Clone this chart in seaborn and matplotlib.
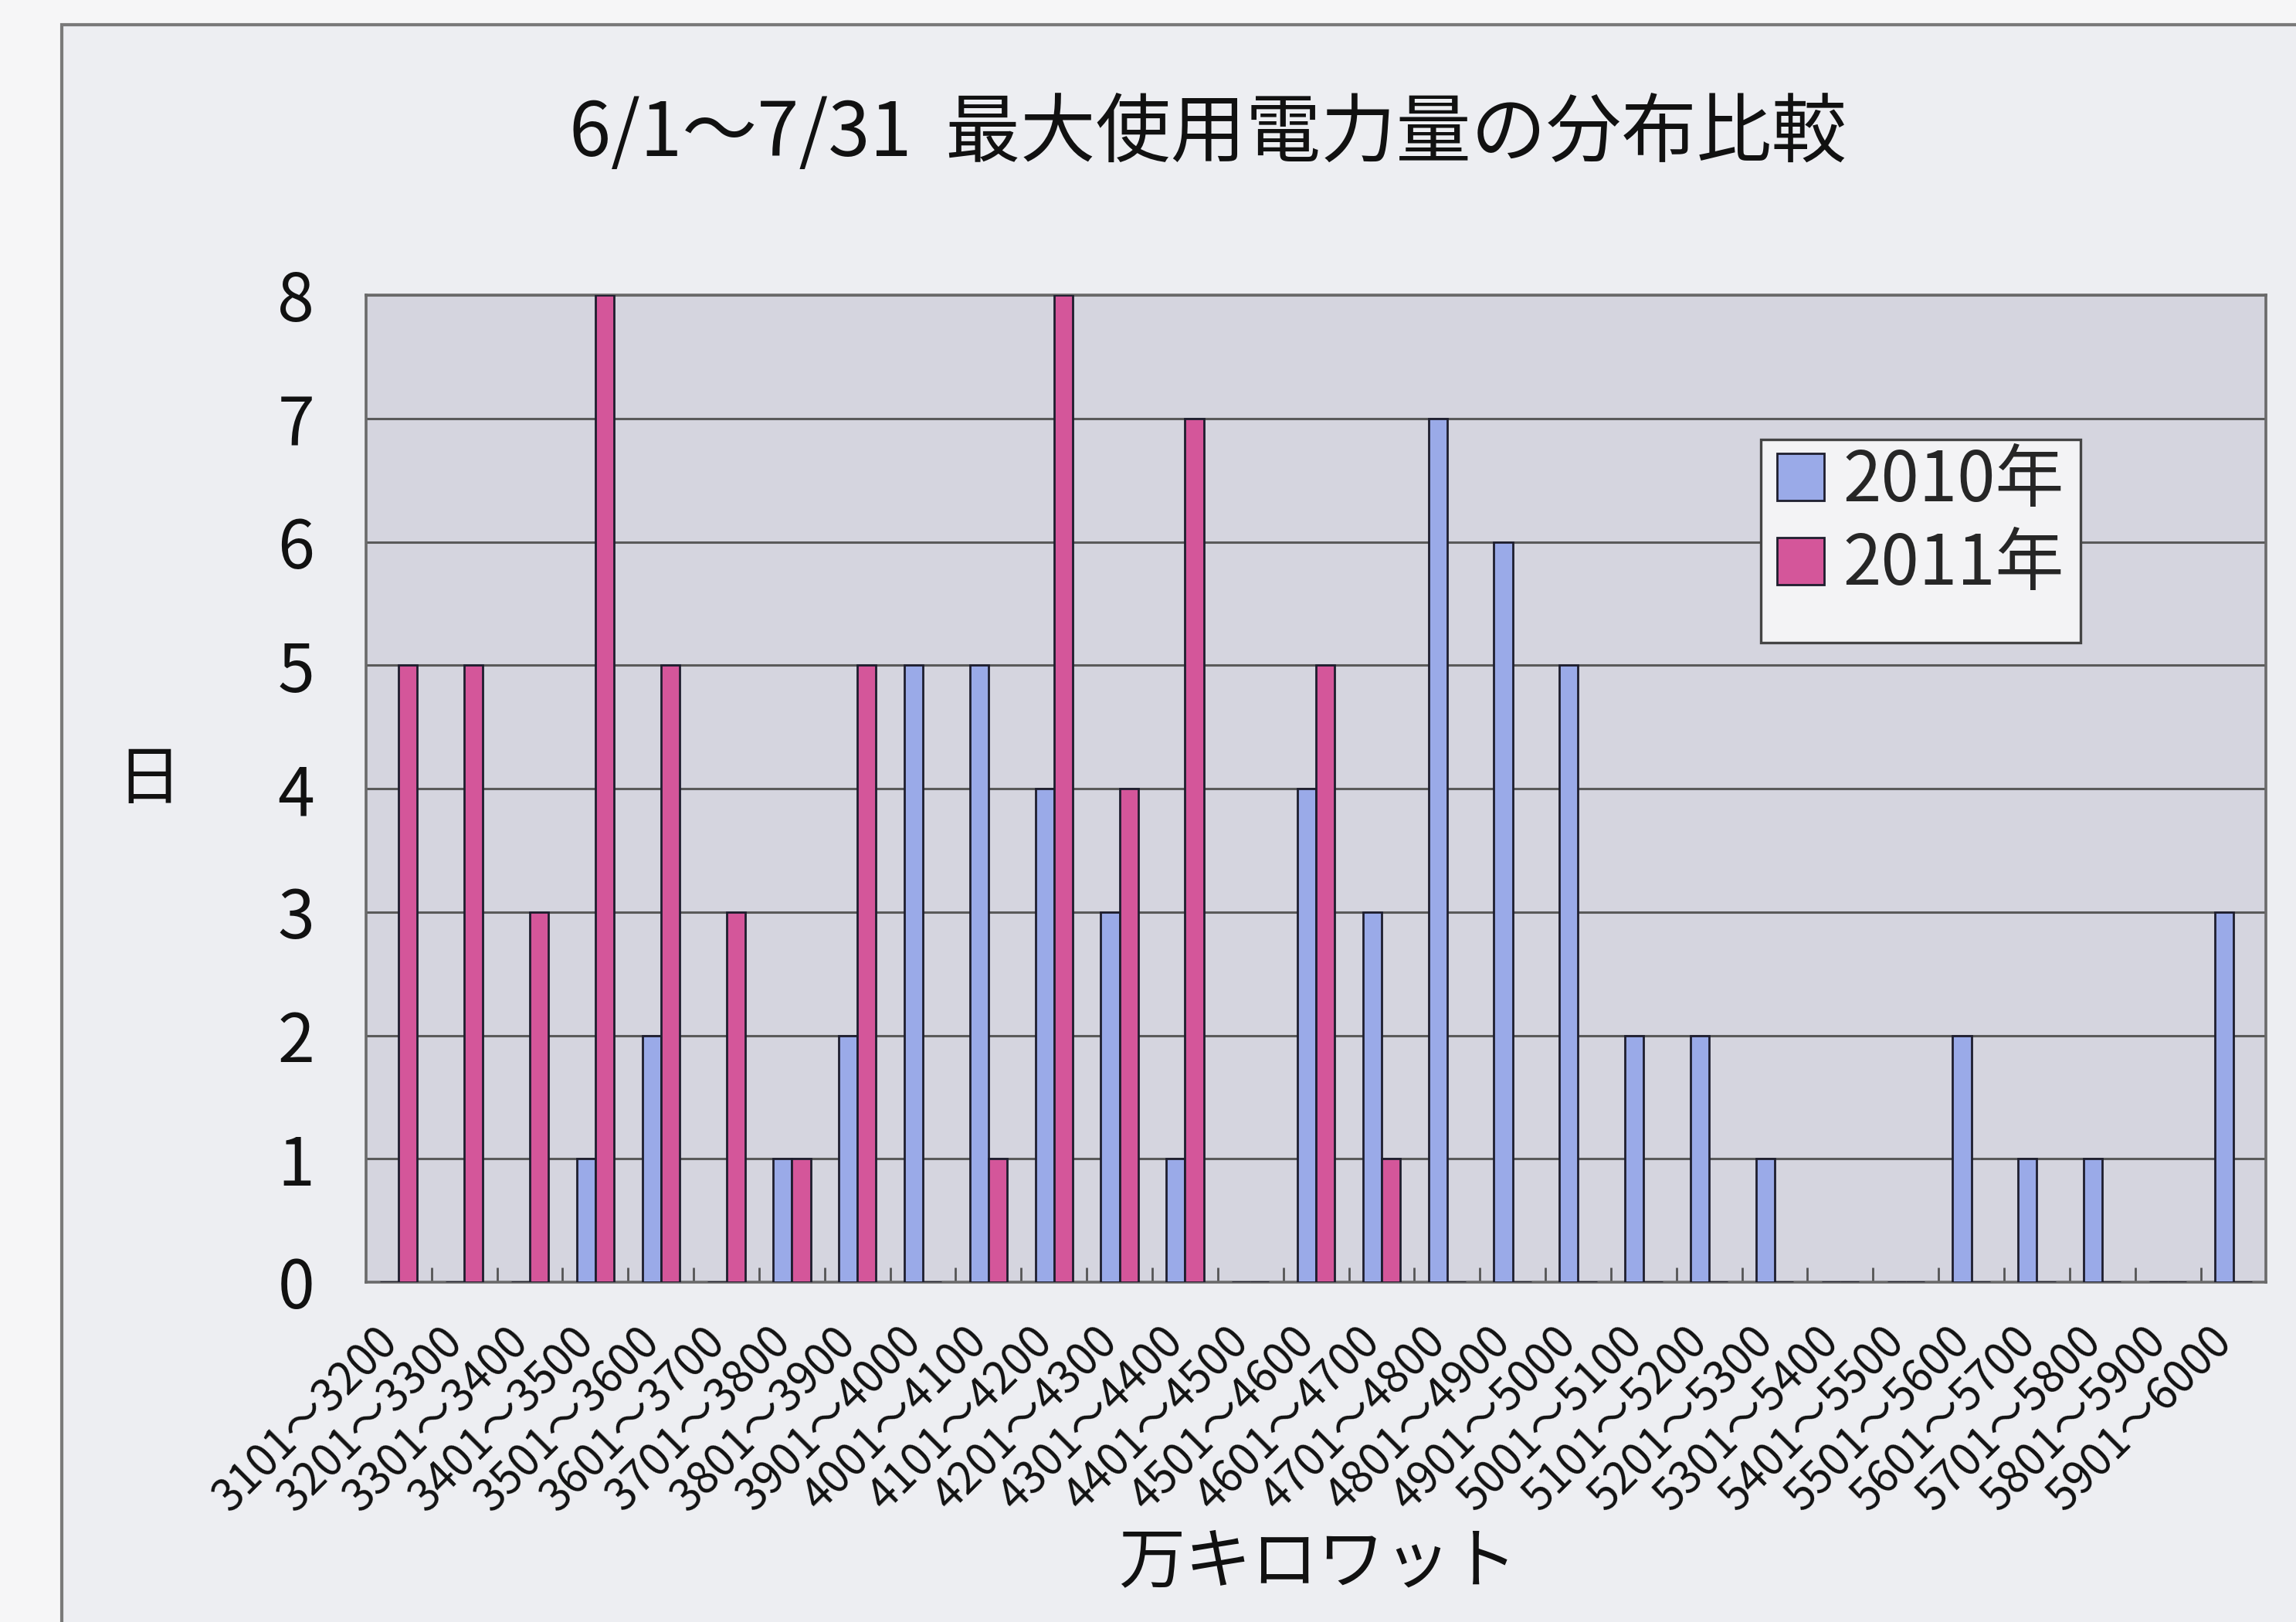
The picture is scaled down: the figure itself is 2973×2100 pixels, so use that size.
import matplotlib
matplotlib.use("Agg")
import matplotlib.pyplot as plt
from matplotlib.patches import Rectangle
from matplotlib.transforms import ScaledTranslation
import seaborn as sns
import pandas as pd
import numpy as np

# ---- data ----
ranges = ["3101～3200", "3201～3300", "3301～3400", "3401～3500", "3501～3600",
          "3601～3700", "3701～3800", "3801～3900", "3901～4000", "4001～4100",
          "4101～4200", "4201～4300", "4301～4400", "4401～4500", "4501～4600",
          "4601～4700", "4701～4800", "4801～4900", "4901～5000", "5001～5100",
          "5101～5200", "5201～5300", "5301～5400", "5401～5500", "5501～5600",
          "5601～5700", "5701～5800", "5801～5900", "5901～6000"]
days_2010 = [0, 0, 0, 1, 2, 0, 1, 2, 5, 5, 4, 3, 1, 0, 4, 3, 7, 6, 5, 2, 2, 1, 0, 0, 2, 1, 1, 0, 3]
days_2011 = [5, 5, 3, 8, 5, 3, 1, 5, 0, 1, 8, 4, 7, 0, 5, 1, 0, 0, 0, 0, 0, 0, 0, 0, 0, 0, 0, 0, 0]
series_names = ["2010年", "2011年"]
y_ticks = [0, 1, 2, 3, 4, 5, 6, 7, 8]

title = "6/1～7/31  最大使用電力量の分布比較"
x_label = "万キロワット"
y_label = "日"

df = pd.DataFrame({
    "range": ranges * 2,
    "days": days_2010 + days_2011,
    "year": [series_names[0]] * len(ranges) + [series_names[1]] * len(ranges),
})

# ---- style ----
sns.set_style("white")
plt.rcParams["font.family"] = ["Noto Sans CJK JP", "DejaVu Sans"]

fig = plt.figure(figsize=(14.865, 10.5), dpi=200)
fig.patch.set_facecolor("#F6F6F7")
bg = Rectangle((0.027, -0.1), 1.2, 1.085, transform=fig.transFigure,
               facecolor="#EDEEF2", edgecolor="#7A7A7A", linewidth=1.5, zorder=-10)
fig.add_artist(bg)

ax = fig.add_axes([0.1594, 0.2095, 0.8276, 0.6085])
ax.set_zorder(5)
ax.set_facecolor("#D5D5DF")

sns.barplot(data=df, x="range", y="days", hue="year", order=ranges,
            hue_order=series_names, palette=["#9AAAE8", "#D4569A"],
            saturation=1, width=0.57, edgecolor="#1E1E2E", linewidth=1.0,
            dodge=True, ax=ax, zorder=3)

ax.set_ylim(0, 8)
ax.set_xlim(-0.5, len(ranges) - 0.5)
ax.set_yticks(y_ticks)
ax.set_yticklabels([str(t) for t in y_ticks], fontsize=31, color="#111111")
ax.tick_params(axis="y", length=0, pad=24)
ax.yaxis.grid(True, color="#5A5A5A", linewidth=1.1, zorder=1)
ax.set_axisbelow(True)

ax.set_xticks(range(len(ranges)))
ax.set_xticklabels(ranges, rotation=45, ha="right", rotation_mode="anchor",
                   fontsize=20.5, color="#111111")
ax.tick_params(axis="x", length=0, pad=17)
shift = ScaledTranslation(-0.16, 0, fig.dpi_scale_trans)
for lbl in ax.get_xticklabels():
    lbl.set_transform(lbl.get_transform() + shift)
ax.set_xticks(np.arange(0.5, len(ranges) - 0.5, 1.0), minor=True)
ax.tick_params(axis="x", which="minor", direction="in", length=7, width=1,
               color="#555555", bottom=True)

for s in ax.spines.values():
    s.set_visible(True)
    s.set_color("#6A6A6A")
    s.set_linewidth(1.3)

ax.set_xlabel("")
ax.set_ylabel("")

fig.text(0.574, 0.036, x_label, ha="center", va="center", fontsize=31, color="#111111")
fig.text(0.065, 0.519, y_label, ha="center", va="center", fontsize=30, color="#111111")
fig.text(0.526, 0.917, title, ha="center", va="center", fontsize=35, color="#111111")

# legend box
box = Rectangle((0.767, 0.604), 0.139, 0.125, transform=fig.transFigure,
                facecolor="#F3F3F5", edgecolor="#444444", linewidth=1.2,
                zorder=4.5, clip_on=False)
ax.add_artist(box)

handles, labels = ax.get_legend_handles_labels()
ax.legend(handles, labels, loc="upper left", bbox_to_anchor=(0.774, 0.725),
          bbox_transform=fig.transFigure, fontsize=32, frameon=False,
          handlelength=0.68, handleheight=0.68, handletextpad=0.28,
          borderpad=0, labelspacing=0.18, borderaxespad=0)

fig.savefig("out.png", dpi=200, facecolor=fig.get_facecolor())
